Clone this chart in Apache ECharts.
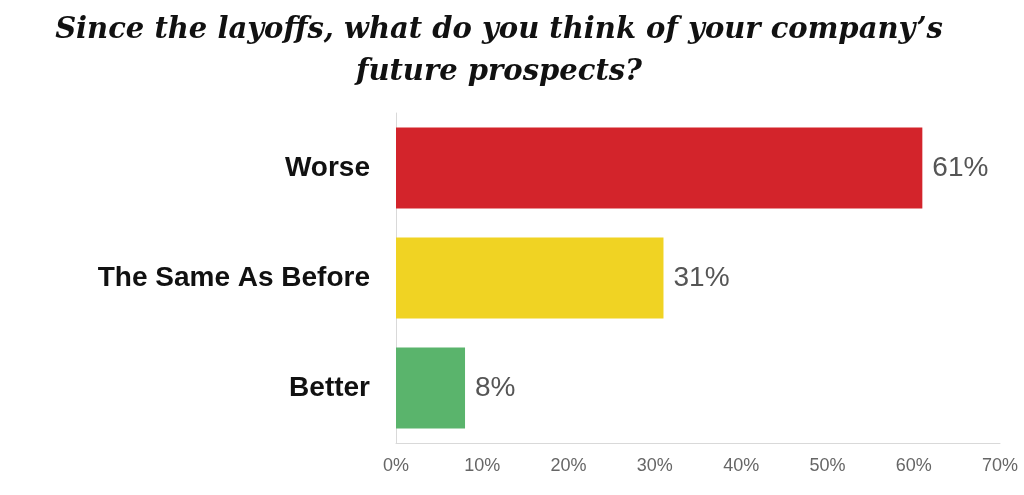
<!DOCTYPE html>
<html>
<head>
<meta charset="utf-8">
<script src="https://cdn.jsdelivr.net/npm/echarts@6/dist/echarts.min.js"></script>
<style>
  html, body { margin: 0; padding: 0; background: #fff; }
  #chart { width: 1024px; height: 495px; }
</style>
</head>
<body>
<div id="chart"></div>
<script>
var categories = ['Better', 'The Same As Before', 'Worse'];
var values = [8, 31, 61];
var barColors = ['#5ab46c', '#f0d323', '#d3242b'];

var chart = echarts.init(document.getElementById('chart'));

var option = {
    animation: false,
    title: {
        text: 'Since the layoffs, what do you think of your company\u2019s\nfuture prospects?',
        left: 499,
        top: 9,
        padding: 0,
        textAlign: 'center',
        textStyle: {
            fontFamily: 'DejaVu Serif',
            fontStyle: 'italic',
            fontWeight: 'bold',
            fontSize: 29,
            lineHeight: 42,
            color: '#111'
        }
    },
    grid: { left: 396, right: 24, top: 113, bottom: 52 },
    xAxis: {
        type: 'value',
        min: 0,
        max: 70,
        interval: 10,
        axisLine: { show: true, lineStyle: { color: '#d9d9d9', width: 1 } },
        axisTick: { show: false },
        splitLine: { show: false },
        axisLabel: {
            formatter: '{value}%',
            color: '#666',
            fontSize: 18,
            fontFamily: 'Liberation Sans',
            margin: 14
        }
    },
    yAxis: {
        type: 'category',
        data: categories,
        axisLine: { show: true, lineStyle: { color: '#d9d9d9', width: 1 } },
        axisTick: { show: false },
        axisLabel: {
            color: '#111',
            fontSize: 28,
            fontWeight: 'bold',
            fontFamily: 'Liberation Sans',
            margin: 26
        }
    },
    series: [{
        type: 'bar',
        data: values.map(function (v, i) {
            return { value: v, itemStyle: { color: barColors[i] } };
        }),
        barWidth: 81,
        label: {
            show: true,
            position: 'right',
            distance: 10,
            formatter: '{c}%',
            color: '#555',
            fontSize: 28,
            fontFamily: 'Liberation Sans'
        }
    }]
};

chart.setOption(option);
</script>
</body>
</html>
